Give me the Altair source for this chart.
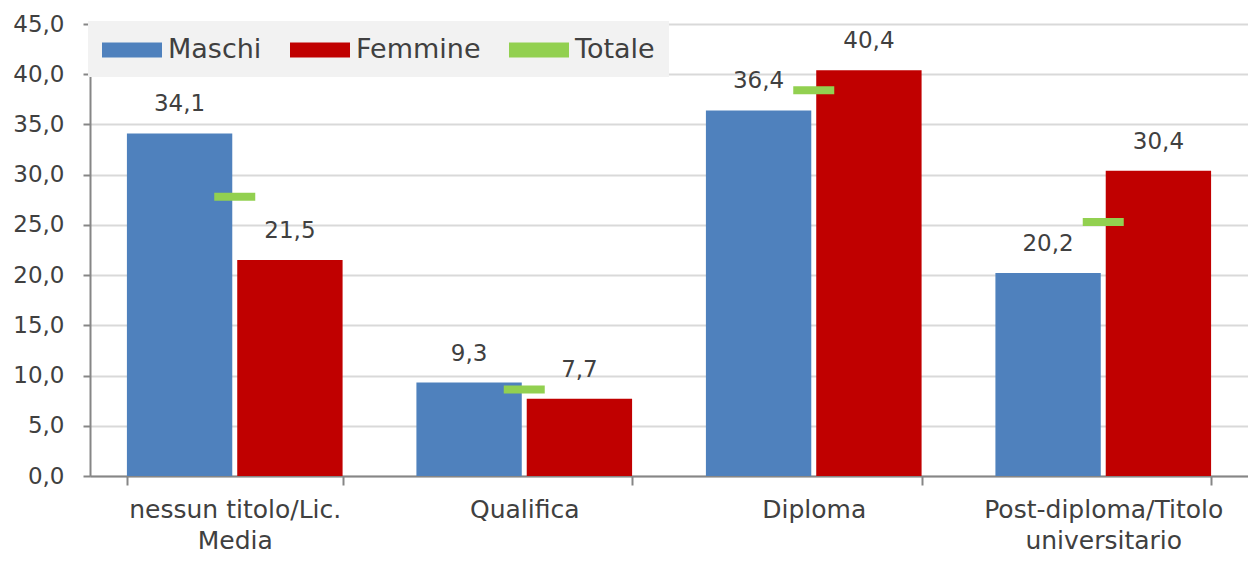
import altair as alt
import pandas as pd

categories = ["nessun titolo/Lic. Media", "Qualifica", "Diploma", "Post-diploma/Titolo universitario"]
label_lines = [["nessun titolo/Lic.", "Media"], ["Qualifica"], ["Diploma"], ["Post-diploma/Titolo", "universitario"]]
maschi = [34.1, 9.3, 36.4, 20.2]
femmine = [21.5, 7.7, 40.4, 30.4]
totale = [27.8, 8.6, 38.4, 25.3]
series = ["Maschi", "Femmine", "Totale"]
colors = ["#4F81BD", "#C00000", "#92D050"]
y_ticks = [0, 5, 10, 15, 20, 25, 30, 35, 40, 45]

rows = []
for c, m, f in zip(categories, maschi, femmine):
    rows.append({"categoria": c, "serie": "Maschi", "valore": m})
    rows.append({"categoria": c, "serie": "Femmine", "valore": f})
bars_df = pd.DataFrame(rows)
tot_df = pd.DataFrame({"categoria": categories, "serie": "Totale", "valore": totale})

FONT = "DejaVu Sans"
TXT = "#404040"
AXC = "#868686"

label_expr = ""
for c, lines in zip(categories, label_lines):
    arr = "[" + ",".join("'" + l + "'" for l in lines) + "]"
    label_expr += f"datum.label == '{c}' ? {arr} : "
label_expr += "datum.label"

x_enc = alt.X(
    "categoria:N",
    sort=categories,
    scale=alt.Scale(paddingInner=0.255, paddingOuter=0.1275),
    axis=alt.Axis(
        title=None, labelAngle=0, tickBand="extent", tickSize=9, tickWidth=2,
        tickColor=AXC, domainColor=AXC, domainWidth=2, labelExpr=label_expr,
        labelFontSize=25, labelLineHeight=31, labelColor=TXT, labelFont=FONT,
        labelPadding=12, labelLimit=0, grid=False,
    ),
)
y_enc = alt.Y(
    "valore:Q",
    scale=alt.Scale(domain=[0, 45], nice=False),
    axis=alt.Axis(
        title=None, values=y_ticks,
        labelExpr="replace(format(datum.value, '.1f'), '.', ',')",
        labelFontSize=23, labelColor=TXT, labelFont=FONT, labelPadding=19,
        tickSize=7, tickWidth=2, tickColor=AXC, domainColor=AXC, domainWidth=2,
        grid=True, gridColor="#D9D9D9", gridWidth=2,
    ),
)
color_enc = alt.Color(
    "serie:N",
    scale=alt.Scale(domain=series, range=colors),
    legend=alt.Legend(
        title=None, orient="none", legendX=-2, legendY=-3, direction="horizontal",
        fillColor="#F2F2F2", padding=14, labelFontSize=27, labelColor=TXT,
        labelFont=FONT, symbolType="M-2,-0.5H2V0.5H-2Z", symbolSize=900,
        symbolOffset=15, symbolStrokeWidth=0, columnPadding=28, labelOffset=21,
    ),
)
xoff = alt.XOffset("serie:N", sort=["Maschi", "Femmine"], scale=alt.Scale(paddingInner=0.045))

bars = alt.Chart(bars_df).mark_bar().encode(x=x_enc, y=y_enc, xOffset=xoff, color=color_enc)

labels = alt.Chart(bars_df).transform_calculate(
    lab="replace(format(datum.valore, '.1f'), '.', ',')"
).mark_text(baseline="middle", dy=-29, fontSize=23, font=FONT, color=TXT).encode(
    x=alt.X("categoria:N", sort=categories), y="valore:Q", xOffset=xoff, text="lab:N"
)

ticks = alt.Chart(tot_df).mark_tick(size=41, thickness=8, opacity=1).encode(
    x=alt.X("categoria:N", sort=categories), y="valore:Q", color=color_enc
)

chart = alt.layer(bars, labels, ticks).properties(
    width=1158, height=452,
    autosize=alt.AutoSizeParams(type="none"),
    padding={"left": 82, "top": 16, "right": 0, "bottom": 77},
).configure_view(stroke=None).configure(background="white")

chart.save("out.html", embed_options={"renderer": "svg", "actions": False})
